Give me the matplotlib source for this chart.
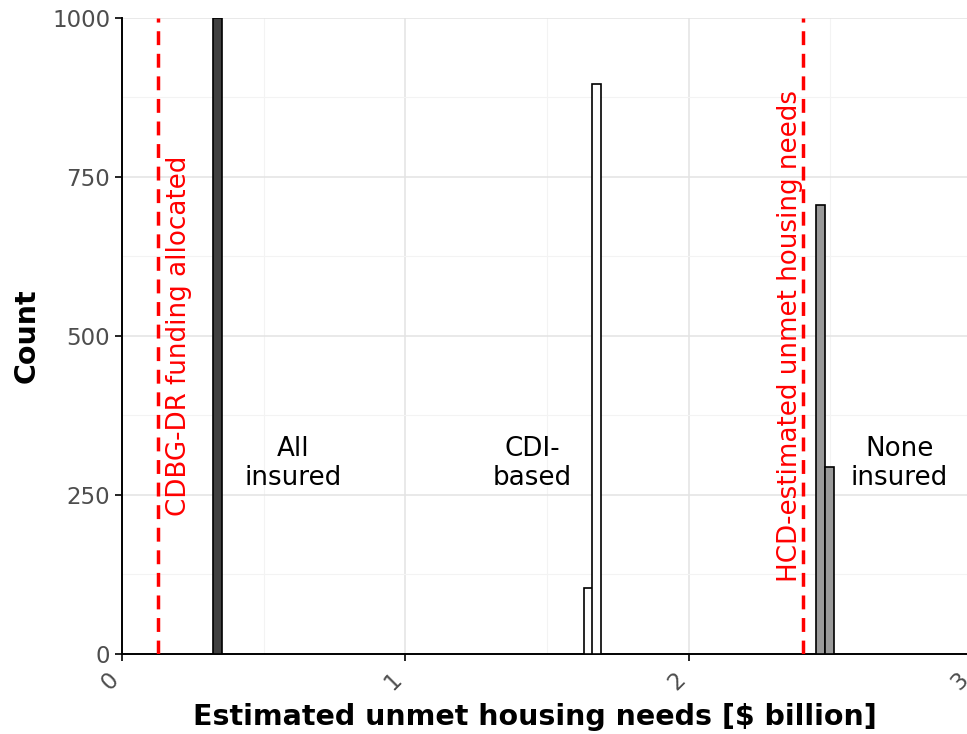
import matplotlib.pyplot as plt
from matplotlib.ticker import MultipleLocator
from matplotlib.transforms import ScaledTranslation

# histogram bins per scenario: bin centres ($ billion) and counts
all_insured_x = [0.337]
all_insured_n = [1000]
cdi_x = [1.645, 1.675]
cdi_n = [103, 896]
none_insured_x = [2.466, 2.497]
none_insured_n = [706, 294]
bin_w = 0.031

cdbg_dr = 0.127   # CDBG-DR funding allocated
hcd_est = 2.404   # HCD-estimated unmet housing needs

scenario_labels = ["All\ninsured", "CDI-\nbased", "None\ninsured"]
scenario_label_x = [0.604, 1.447, 2.743]

fig = plt.figure(figsize=(9.67, 7.34), dpi=100)
ax = fig.add_axes([0.1262, 0.109, 0.879, 0.8665])

ax.bar(all_insured_x, all_insured_n, width=bin_w, color="#404040", edgecolor="black", linewidth=1.2, zorder=3)
ax.bar(cdi_x, cdi_n, width=bin_w, color="white", edgecolor="black", linewidth=1.2, zorder=3)
ax.bar(none_insured_x, none_insured_n, width=bin_w, color="#9a9a9a", edgecolor="black", linewidth=1.2, zorder=3)

ax.axvline(cdbg_dr, color="red", ls=(0, (4, 2.5)), lw=2.5, zorder=4)
ax.axvline(hcd_est, color="red", ls=(0, (4, 2.5)), lw=2.5, zorder=4)
ax.text(cdbg_dr + 0.075, 500, "CDBG-DR funding allocated", rotation=90, color="red",
        fontsize=18.8, ha="center", va="center")
ax.text(hcd_est - 0.046, 500, "HCD-estimated unmet housing needs", rotation=90, color="red",
        fontsize=18.8, ha="center", va="center")

for lab, x in zip(scenario_labels, scenario_label_x):
    ax.text(x, 300, lab, ha="center", va="center", fontsize=18.8, linespacing=1.15)

ax.set_xlim(0, 3)
ax.set_ylim(0, 1000)
ax.xaxis.set_major_locator(MultipleLocator(1))
ax.xaxis.set_minor_locator(MultipleLocator(0.5))
ax.yaxis.set_major_locator(MultipleLocator(250))
ax.yaxis.set_minor_locator(MultipleLocator(125))
ax.grid(which="major", color="#e3e3e3", lw=1.1, zorder=0)
ax.grid(which="minor", color="#f3f3f3", lw=0.8, zorder=0)
ax.tick_params(which="minor", length=0)
ax.tick_params(which="major", length=5, width=1.2, color="black", labelcolor="#4d4d4d", labelsize=16.5)
for s in ["top", "right"]:
    ax.spines[s].set_visible(False)
for s in ["left", "bottom"]:
    ax.spines[s].set_linewidth(1.4)
ax.set_xticks([0, 1, 2, 3])
ax.set_xticklabels(["0", "1", "2", "3"], rotation=45, ha="right", rotation_mode="anchor")
# nudge the slanted labels left so they sit under-left of each tick
shift = ScaledTranslation(-0.15, -0.02, fig.dpi_scale_trans)
for t in ax.get_xticklabels():
    t.set_transform(t.get_transform() + shift)

ax.set_xlabel("Estimated unmet housing needs [$ billion]", fontsize=20.5, fontweight="bold", labelpad=6)
ax.xaxis.label.set_x(0.486)
ax.set_ylabel("Count", fontsize=20.5, fontweight="bold", labelpad=8)

fig.savefig("out.png", dpi=100)
